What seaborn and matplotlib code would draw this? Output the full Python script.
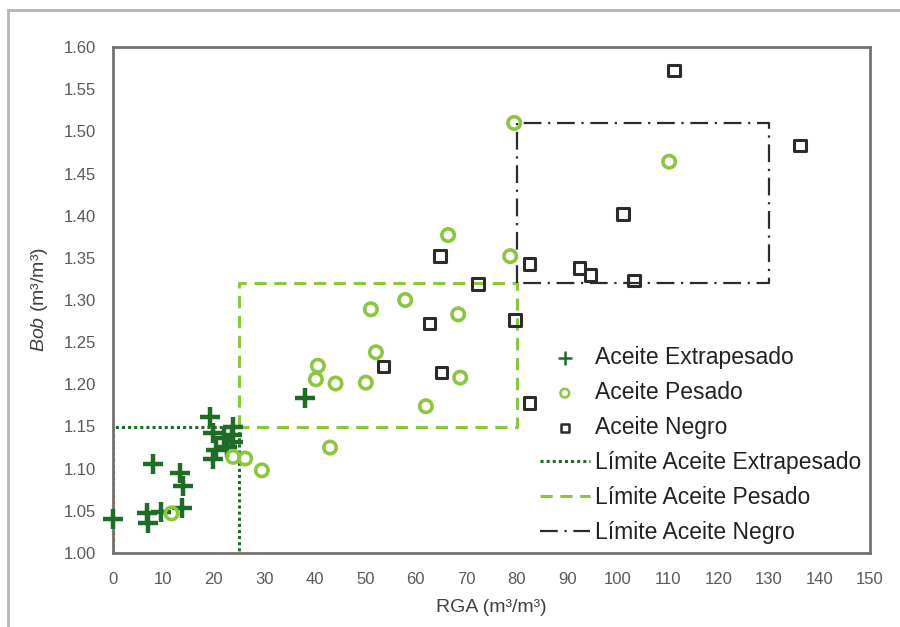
import numpy as np
import pandas as pd
import matplotlib
matplotlib.use('Agg')
from matplotlib import pyplot as plt
from matplotlib.patches import Rectangle
import seaborn as sns

sns.set_style('white')
plt.rcParams['font.family'] = ['Liberation Sans', 'DejaVu Sans']
plt.rcParams['mathtext.fontset'] = 'custom'
plt.rcParams['mathtext.it'] = 'Liberation Sans:italic'
plt.rcParams['mathtext.rm'] = 'Liberation Sans'

# datos
rga_extra = [0, 8.0, 6.7, 7.0, 9.6, 13.3, 13.8, 13.6, 19.2, 19.9, 20.4, 19.9, 21.9, 23.8, 23.5, 23.8, 22.5, 38.0]
bob_extra = [1.040, 1.105, 1.047, 1.035, 1.049, 1.095, 1.080, 1.053, 1.161, 1.142, 1.122, 1.112, 1.136, 1.150, 1.140, 1.132, 1.126, 1.184]

rga_pesado = [11.6, 23.8, 26.2, 29.5, 66.4, 78.7, 57.9, 51.1, 68.4, 52.1, 40.6, 40.2, 44.1, 50.1, 68.8, 62.0, 43.0, 79.5, 110.2]
bob_pesado = [1.047, 1.114, 1.112, 1.098, 1.377, 1.352, 1.300, 1.289, 1.283, 1.238, 1.222, 1.206, 1.201, 1.202, 1.208, 1.174, 1.125, 1.510, 1.464]

rga_negro = [64.8, 82.5, 72.3, 62.7, 79.7, 53.6, 65.1, 82.5, 111.2, 136.1, 101.1, 92.4, 94.6, 103.2]
bob_negro = [1.352, 1.343, 1.319, 1.272, 1.276, 1.221, 1.214, 1.178, 1.572, 1.483, 1.402, 1.338, 1.330, 1.323]

# limites (rectangulos)
lim_extra_x = [0, 0, 25, 25]
lim_extra_y = [1.00, 1.15, 1.15, 1.00]
lim_pesado_x = [25, 25, 80, 80, 25]
lim_pesado_y = [1.15, 1.32, 1.32, 1.15, 1.15]
lim_negro_x = [80, 80, 130, 130, 80]
lim_negro_y = [1.32, 1.51, 1.51, 1.32, 1.32]

c_extra = '#1f6b28'
c_pesado = '#8cc63f'
c_negro = '#2b2b2b'

fig = plt.figure(figsize=(9, 6.27), dpi=100)
ax = fig.add_axes([113/900, 1-553/627, 757/900, 506/627])

ax.plot(lim_extra_x, lim_extra_y, color=c_extra, ls=(0, (1, 1.0)), lw=2.2, label='Límite Aceite Extrapesado', zorder=2)
ax.plot(lim_pesado_x, lim_pesado_y, color=c_pesado, ls=(0, (4, 2.5)), lw=2.2, label='Límite Aceite Pesado', zorder=2)
ax.plot(lim_negro_x, lim_negro_y, color=c_negro, ls=(0, (8, 3, 1, 3)), lw=1.6, label='Límite Aceite Negro', zorder=2)

sns.scatterplot(x=rga_extra, y=bob_extra, marker='+', s=190, color=c_extra, linewidth=3.2, ax=ax,
                label='Aceite Extrapesado', zorder=3, clip_on=False)
sns.scatterplot(x=rga_pesado, y=bob_pesado, marker='o', s=80, facecolors='none', edgecolor=c_pesado, linewidth=2.6, ax=ax,
                label='Aceite Pesado', zorder=3, clip_on=False)
sns.scatterplot(x=rga_negro, y=bob_negro, marker='s', s=70, facecolors='none', edgecolor=c_negro, linewidth=2.2, ax=ax,
                label='Aceite Negro', zorder=3, clip_on=False)

ax.set_xlim(0, 150)
ax.set_ylim(1.0, 1.6)
ax.set_xticks(np.arange(0, 151, 10))
ax.set_yticks(np.arange(1.0, 1.601, 0.05))
ax.set_yticklabels(['%.2f' % v for v in np.arange(1.0, 1.601, 0.05)])
ax.tick_params(length=0, labelsize=12, labelcolor='#595959')
ax.tick_params(axis='x', pad=14)
ax.tick_params(axis='y', pad=12)
for sp in ax.spines.values():
    sp.set_color('#767171')
    sp.set_linewidth(2)

ax.set_xlabel('RGA (m³/m³)', fontsize=14, color='#404040', labelpad=8)
ax.set_ylabel(r'$\mathit{Bob}$ (m³/m³)', fontsize=14, color='#404040', labelpad=10)

h, l = ax.get_legend_handles_labels()
order = [3, 4, 5, 0, 1, 2]
leg = ax.legend([h[i] for i in order], [l[i] for i in order], loc='lower right', bbox_to_anchor=(1.0, 0.0),
                frameon=False, fontsize=16.5, handlelength=2.2, handletextpad=0.2, labelspacing=0.52,
                borderaxespad=0.2, borderpad=0.2, markerscale=0.7)
for hd in leg.legend_handles[:3]:
    hd.set_linewidth(1.8)
for t in leg.get_texts():
    t.set_color('#222222')

# marco de la figura
fig.add_artist(Rectangle((8/900, -0.1), 1.2, 1.1 - 10/627, transform=fig.transFigure,
                         fill=False, edgecolor='#b4b4b4', linewidth=2))

fig.savefig('out.png', dpi=100)
